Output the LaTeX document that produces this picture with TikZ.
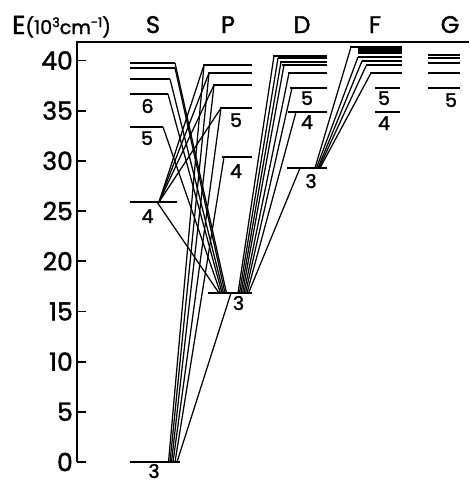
\documentclass[tikz,border=0pt]{standalone}
\usepackage{fontspec}
\setmainfont{Poppins}[FakeBold=1.6]
\begin{document}
\begin{tikzpicture}[x=1pt,y=-1pt,
  level/.style={line width=1.8pt},
  trans/.style={line width=1.25pt},
  axisline/.style={line width=1.8pt},
  ticklab/.style={anchor=east,inner sep=0pt,font=\fontsize{25}{25}\selectfont},
  collab/.style={anchor=base,inner sep=0pt,font=\fontsize{24}{24}\selectfont},
  lvlab/.style={anchor=base,inner sep=0pt,font=\fontsize{19}{19}\selectfont}]
\useasboundingbox (0,0) rectangle (469,482);
% ---------- axis ----------
\coordinate (ax0) at (77,462);
\coordinate (axtop) at (77,42);
\coordinate (axright) at (469,42);
\draw[axisline] (axright) -- (axtop) -- (ax0);
\foreach \v in {0,5,...,40} {
  \coordinate (tk\v) at (77,{462-10.04*\v});
  \coordinate (tke\v) at (86,{462-10.04*\v});
  \draw[axisline] (tk\v) -- (tke\v);
  \node[ticklab] (tl\v) at (73,{462-10.04*\v}) {\v};
}
\node[anchor=base west,inner sep=0pt] (elab) at (12,34)
  {\fontsize{26}{26}\selectfont E\fontsize{19}{19}\selectfont(10\raisebox{7pt}{\fontsize{13}{13}\selectfont 3}cm\raisebox{7pt}{\fontsize{13}{13}\selectfont -1})};
\node[collab] (cS) at (153,33) {S};
\node[collab] (cP) at (228,33) {P};
\node[collab] (cD) at (302,33) {D};
\node[collab] (cF) at (375,33) {F};
\node[collab] (cG) at (450,33) {G};
% ---------- levels ----------
% S
\foreach \n/\y/\xr in {3/462/180, 4/202/177, 5/127/163, 6/94/168, 7/79/170, 8/68/175, 9/63/175}{
  \coordinate (S\n L) at (130,\y); \coordinate (S\n R) at (\xr,\y);
  \draw[level] (S\n L) -- (S\n R);}
% P
\foreach \n/\y/\xl in {3/293/208, 4/157/222, 5/108/220, 6/85/213, 7/73/208, 8/65/203}{
  \coordinate (P\n L) at (\xl,\y); \coordinate (P\n R) at (252,\y);
  \draw[level] (P\n L) -- (P\n R);}
% D
\foreach \n/\y/\xl in {3/168/287, 4/112/288, 5/88/290, 6/73/288, 7/65/282, 8/62/280, 9/58/278, 10/56/273}{
  \coordinate (D\n L) at (\xl,\y); \coordinate (D\n R) at (327,\y);
  \draw[level] (D\n L) -- (D\n R);}
% F
\foreach \n/\y/\xl/\xr in {a/47/350/402, b/49/358/402, c/51/358/402, d/53/358/402, e/57/358/402, f/61/362/402, g/65/366/402, h/73/370/402, i/88/375/400, j/112/375/400}{
  \coordinate (F\n L) at (\xl,\y); \coordinate (F\n R) at (\xr,\y);
  \draw[level] (F\n L) -- (F\n R);}
% G
\foreach \n/\y in {a/55, b/58, c/63, d/73, e/88}{
  \coordinate (G\n L) at (428,\y); \coordinate (G\n R) at (460,\y);
  \draw[level,line width=1.5pt] (G\n L) -- (G\n R);}
% ---------- level labels ----------
\node[lvlab] (lS3) at (154,478) {3};
\node[lvlab] (lS4) at (147.5,223) {4};
\node[lvlab] (lS5) at (147,145) {5};
\node[lvlab] (lS6) at (147.5,113) {6};
\node[lvlab] (lP3) at (238.5,310) {3};
\node[lvlab] (lP4) at (236,178) {4};
\node[lvlab] (lP5) at (236,127) {5};
\node[lvlab] (lD3) at (311,188) {3};
\node[lvlab] (lD4) at (307,129) {4};
\node[lvlab] (lD5) at (307,105) {5};
\node[lvlab] (lF4) at (384,130) {4};
\node[lvlab] (lF5) at (384,105) {5};
\node[lvlab] (lG5) at (451,107) {5};
% ---------- transition end points ----------
% on 3S
\coordinate (g3) at (177,462); \coordinate (g4) at (175,462);
\coordinate (g5) at (173,462); \coordinate (g6) at (171.5,462);
\coordinate (g7) at (170,462); \coordinate (g8) at (168.5,462);
% on 4S
\coordinate (f4u) at (159,202); \coordinate (f4d) at (157,202);
% on P levels (left ends)
\coordinate (p3g) at (231,293);
\coordinate (p4) at (224,157); \coordinate (p5) at (221,108);
\coordinate (p6) at (214,85); \coordinate (p7) at (209,73); \coordinate (p8) at (204,65);
% on 3P (from S)
\coordinate (q4) at (219,293); \coordinate (q5) at (220.5,293);
\coordinate (q6) at (222,293); \coordinate (q7) at (223.5,293);
\coordinate (q8) at (225,293); \coordinate (q9) at (226.5,293);
% on 3P (to D)
\coordinate (r10) at (238,293); \coordinate (r9) at (239.5,293);
\coordinate (r8) at (241,293); \coordinate (r7) at (242.5,293);
\coordinate (r6) at (244,293); \coordinate (r5) at (245.5,293);
\coordinate (r4) at (247,293); \coordinate (r3) at (248.5,293);
% on D levels
\coordinate (d3) at (300,168); \coordinate (d4) at (296,112);
\coordinate (d5) at (292,88); \coordinate (d6) at (289,73);
\coordinate (d7) at (284,65); \coordinate (d8) at (281,62);
\coordinate (d9) at (278,58); \coordinate (d10) at (274,56);
% on 3D (to F)
\coordinate (e1) at (315,168); \coordinate (e2) at (316.5,168);
\coordinate (e3) at (318,168); \coordinate (e4) at (319,168);
\coordinate (e5) at (320,168);
% on F levels
\coordinate (fa) at (351,47); \coordinate (fe) at (358,57);
\coordinate (ff) at (362,61); \coordinate (fg) at (366,66);
\coordinate (fh) at (371,73);
% ---------- transitions ----------
% 3S - nP
\draw[trans] (g3) -- (p3g);
\draw[trans] (g4) -- (p4);
\draw[trans] (g5) -- (p5);
\draw[trans] (g6) -- (p6);
\draw[trans] (g7) -- (p7);
\draw[trans] (g8) -- (p8);
% 4S - nP
\draw[trans] (f4u) -- (p5);
\draw[trans] (f4u) -- (p6);
\draw[trans] (f4u) -- (p7);
\draw[trans] (f4u) -- (p8);
\draw[trans] (f4d) -- (q4);
% nS - 3P
\draw[trans] (S5R) -- (q5);
\draw[trans] (S6R) -- (q6);
\draw[trans] (S7R) -- (q7);
\draw[trans] (S8R) -- (q8);
\draw[trans] (S9R) -- (q9);
% 3P - nD
\draw[trans] (r3) -- (d3);
\draw[trans] (r4) -- (d4);
\draw[trans] (r5) -- (d5);
\draw[trans] (r6) -- (d6);
\draw[trans] (r7) -- (d7);
\draw[trans] (r8) -- (d8);
\draw[trans] (r9) -- (d9);
\draw[trans] (r10) -- (d10);
% 3D - nF
\draw[trans] (e1) -- (fa);
\draw[trans] (e2) -- (fe);
\draw[trans] (e3) -- (ff);
\draw[trans] (e4) -- (fg);
\draw[trans] (e5) -- (fh);
\end{tikzpicture}
\end{document}
